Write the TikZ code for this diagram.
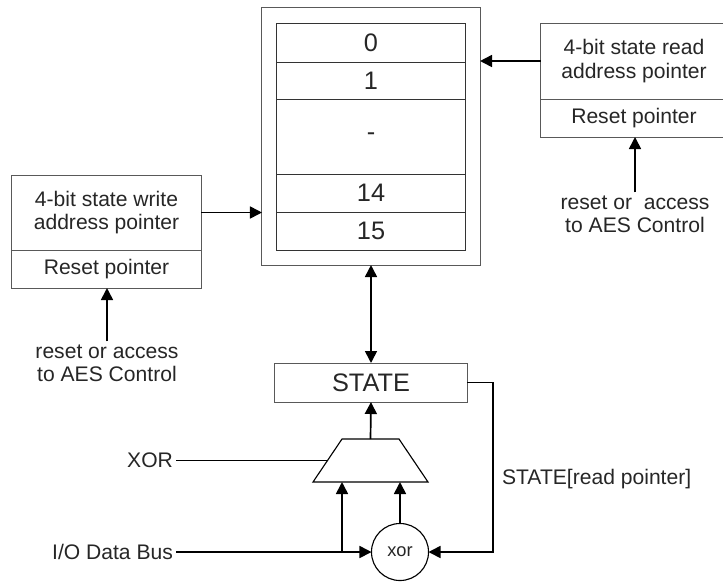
\documentclass[tikz,border=0pt]{standalone}
\usepackage{fontspec}
\setmainfont{Liberation Sans}
\usetikzlibrary{arrows.meta, calc}

\begin{document}
\begin{tikzpicture}[x=0.025cm, y=-0.025cm,
  box/.style={draw=black!65, line width=0.7pt, inner sep=0pt, outer sep=0pt, text=black!85},
  cell/.style={box, draw=black!80, minimum width=4.7cm, font=\fontsize{18}{20}\selectfont},
  txt/.style={align=center, inner sep=2pt, text=black!85, font=\fontsize{15}{16.5}\selectfont},
  tip/.style={-{Triangle[length=0.3cm, width=0.3cm]}},
  conn/.style={line width=1.2pt, tip},
  wire/.style={line width=1.2pt}]
  \useasboundingbox (0,0) rectangle (723,581);

  % State memory
  \node[box, minimum width=5.45cm, minimum height=6.425cm] (mem) at (371,136.5) {};
  \node[cell, minimum height=0.975cm] (c0) at (371,42.5) {0};
  \node[cell, minimum height=0.925cm] (c1) at (371,80.5) {1};
  \node[cell, minimum height=1.875cm] (cdots) at (371,136.5) {-};
  \node[cell, minimum height=0.95cm] (c14) at (371,193) {14};
  \node[cell, minimum height=0.95cm] (c15) at (371,231) {15};

  % Read pointer
  \node[box, txt, minimum width=4.65cm, minimum height=1.9cm] (rtop) at (634,61) {4-bit state read\\address pointer};
  \node[box, txt, minimum width=4.65cm, minimum height=0.95cm] (rbot) at (634,118) {Reset pointer};
  \node[txt] (rctl) at (635,214) {reset or~ access\\to AES Control};
  \draw[conn] (rtop.west) -- (rtop.west -| mem.east);
  \draw[conn] (rctl.north) -- (rctl.north |- rbot.south);

  % Write pointer
  \node[box, txt, minimum width=4.725cm, minimum height=1.875cm] (wtop) at (106.5,212.5) {4-bit state write\\address pointer};
  \node[box, txt, minimum width=4.725cm, minimum height=0.95cm] (wbot) at (106.5,269) {Reset pointer};
  \node[txt] (wctl) at (107,363) {reset or access\\to AES Control};
  \draw[conn] (wtop.east) -- (wtop.east -| mem.west);
  \draw[conn] (wctl.north) -- (wctl.north |- wbot.south);

  % STATE register and input logic
  \node[box, minimum width=4.8cm, minimum height=0.975cm, font=\fontsize{18}{20}\selectfont] (state) at (371,382.5) {STATE};
  \draw[line width=1.2pt, {Triangle[length=0.3cm, width=0.3cm]}-{Triangle[length=0.3cm, width=0.3cm]}] (mem.south) -- (state.north);

  \draw[line width=0.8pt] (313,482) -- (342,439) -- (399,439) -- (428,482) -- cycle;
  \coordinate (muxout) at (370.5,439);
  \coordinate (muxin) at (370.5,482);
  \coordinate (muxsel) at (327.5,460.5);
  \node[draw, line width=0.8pt, circle, minimum size=1.425cm, inner sep=0pt, outer sep=0pt,
    text=black!85, font=\fontsize{13}{15}\selectfont] (xor) at (400,552) {xor};

  \node[txt, anchor=east] (xorl) at (176,460.5) {XOR};
  \node[txt, anchor=east] (io) at (176,552) {I/O Data Bus};
  \node[txt, anchor=west] (fb) at (499,479) {STATE[read pointer]};
  \coordinate (jn) at (342,552);

  \draw[conn] (muxout) -- (state.south);
  \draw[wire] (xorl.east) -- (muxsel);
  \draw[conn] (io.east) -- (xor.west);
  \draw[conn] (jn) -- (jn |- muxin);
  \draw[conn] (xor.north) -- (xor.north |- muxin);
  \draw[conn] (state.east) -- ++(26,0) |- (xor.east);
\end{tikzpicture}
\end{document}
